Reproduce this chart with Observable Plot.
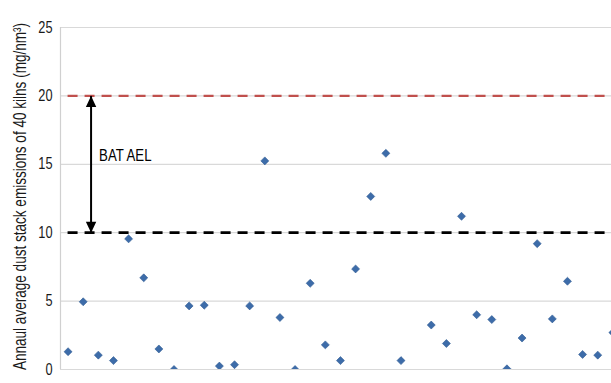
<!DOCTYPE html>
<html>
<head>
<meta charset="utf-8">
<script src="https://cdn.jsdelivr.net/npm/d3@7"></script>
<script src="https://cdn.jsdelivr.net/npm/@observablehq/plot@0.6"></script>
<style>
  html, body { margin: 0; padding: 0; background: #fff; overflow: hidden; }
  #chart svg { display: block; }
</style>
</head>
<body>
<div id="chart"></div>
<script>
// Annual average dust stack emissions per kiln (mg/Nm³); kiln 24 has no value
const kilns = d3.range(1, 38);
const emissions = [
  1.3, 4.95, 1.05, 0.65, 9.55, 6.7, 1.5, 0.0, 4.65, 4.7,
  0.25, 0.35, 4.65, 15.25, 3.8, 0.0, 6.3, 1.8, 0.65, 7.35,
  12.65, 15.8, 0.65, null, 3.25, 1.9, 11.2, 4.0, 3.65, 0.05,
  2.3, 9.2, 3.7, 6.45, 1.1, 1.05, 2.7
];
const yTicks = [0, 5, 10, 15, 20, 25];
const batAelLow = 10;
const batAelHigh = 20;
const batLabel = "BAT AEL";
const yTitle = "Annaul average dust stack emissions of 40 kilns (mg/nm³)";

const rows = kilns.map((k, i) => ({kiln: k, value: emissions[i]})).filter(d => d.value != null);

// filled triangular arrowhead
function headMarker(color, context) {
  const m = d3.create("svg:marker")
    .attr("viewBox", "-12 -6 12 12")
    .attr("markerWidth", 12)
    .attr("markerHeight", 12)
    .attr("markerUnits", "userSpaceOnUse")
    .attr("refX", 0)
    .attr("refY", 0)
    .attr("orient", "auto-start-reverse");
  m.append("path").attr("d", "M0,0L-11,-5.2L-11,5.2Z").attr("fill", color).attr("stroke", "none");
  return m.node();
}

const font = "'Liberation Sans', Arial, sans-serif";

const chart = Plot.plot({
  width: 611,
  height: 383,
  marginLeft: 60,
  marginRight: 0,
  marginTop: 27,
  marginBottom: 14,
  style: {fontFamily: font, fontSize: "16px", color: "#1a1a1a", background: "#fff"},
  x: {type: "linear", domain: [0.5, 36.91], axis: null},
  y: {domain: [0, 25]},
  marks: [
    Plot.ruleY(yTicks, {stroke: "#d9d9d9", strokeWidth: 1.2}),
    Plot.ruleX([0.5], {y1: 0, y2: 25, stroke: "#d0d0d0", strokeWidth: 1.2}),
    Plot.axisY(yTicks, {tickSize: 0, tickPadding: 8, label: null, fontSize: 16}),
    Plot.text([yTitle], {frameAnchor: "left", textAnchor: "middle", rotate: -90, dx: -40, dy: -2, fontSize: 17.5, fill: "#1a1a1a", className: "ytitle"}),
    Plot.ruleY([batAelHigh], {x1: 1, x2: 40, stroke: "#c0504d", strokeWidth: 2.3, strokeDasharray: "10,7", clip: true}),
    Plot.ruleY([batAelLow], {x1: 1, x2: 40, stroke: "#000", strokeWidth: 2.7, strokeDasharray: "10,7", clip: true}),
    Plot.link([{x: 2.52}], {x1: "x", x2: "x", y1: () => batAelHigh, y2: () => batAelLow, stroke: "#000", strokeWidth: 2, markerStart: headMarker, markerEnd: headMarker}),
    Plot.text([batLabel], {x: 3.05, y: 15.65, textAnchor: "start", lineAnchor: "middle", fontSize: 16.5, fill: "#000"}),
    Plot.dot(rows, {x: "kiln", y: "value", symbol: "diamond2", r: 3.6, fill: "#3d6ca9", stroke: "#2f5a92", strokeWidth: 0.6, clip: true})
  ]
});
document.getElementById("chart").append(chart);

// narrow the lettering to a condensed face
d3.select(chart).selectAll("text").each(function() {
  if (this.closest(".ytitle")) {
    // long rotated title: compress along its reading direction
    const t = this.getAttribute("transform") || "";
    this.setAttribute("transform", t + " scale(0.775,1)");
    return;
  }
  const w = this.getComputedTextLength();
  if (w > 0) {
    this.setAttribute("textLength", (w * 0.8).toFixed(1));
    this.setAttribute("lengthAdjust", "spacingAndGlyphs");
  }
});
</script>
</body>
</html>
